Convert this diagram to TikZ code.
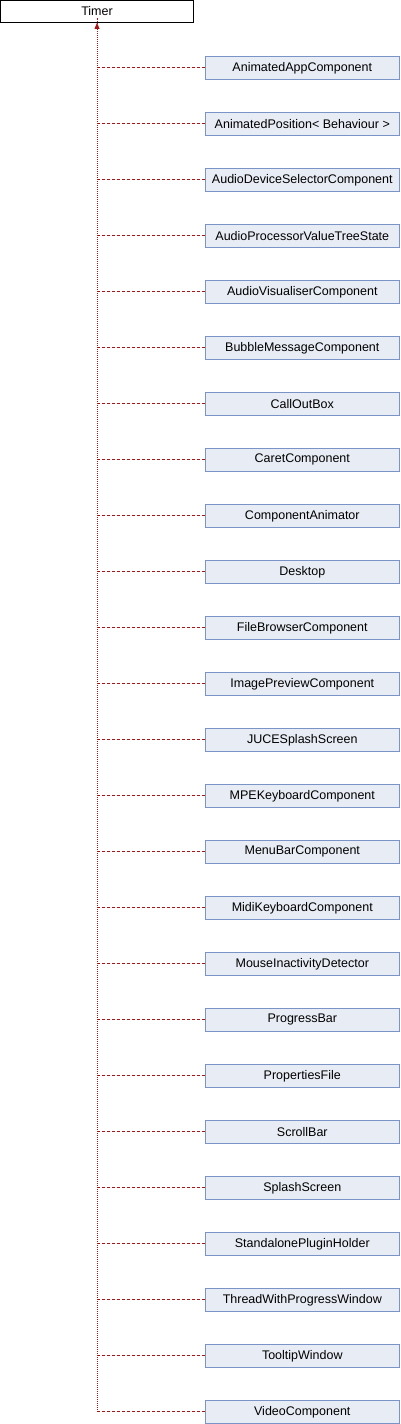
\documentclass[tikz,border=0pt]{standalone}
\usepackage{fontspec}
\setmainfont{Liberation Sans}
\usetikzlibrary{arrows.meta}
\definecolor{boxfill}{HTML}{E8ECF4}
\definecolor{boxline}{HTML}{7A94C8}
\definecolor{linkred}{HTML}{A81414}
\begin{document}
\begin{tikzpicture}[x=1pt,y=-1pt,
  every node/.style={font=\fontsize{12.5}{14}\selectfont, inner sep=0pt, outer sep=0pt},
  rootbox/.style={draw=black, line width=1pt, fill=white, minimum width=193pt, minimum height=22.5pt},
  childbox/.style={draw=boxline, line width=1pt, fill=boxfill, minimum width=194pt, minimum height=22.5pt},
  trunk/.style={draw=linkred, line width=1pt, dash pattern=on 1pt off 1pt},
  branch/.style={draw=linkred, line width=1pt, dash pattern=on 3pt off 2pt}]
\useasboundingbox (0,0) rectangle (400,1424);
\node[rootbox] (timer) at (97,11.5) {Timer};
\foreach \name [count=\i] in {AnimatedAppComponent,{AnimatedPosition< Behaviour >},AudioDeviceSelectorComponent,AudioProcessorValueTreeState,AudioVisualiserComponent,BubbleMessageComponent,CallOutBox,CaretComponent,ComponentAnimator,Desktop,FileBrowserComponent,ImagePreviewComponent,JUCESplashScreen,MPEKeyboardComponent,MenuBarComponent,MidiKeyboardComponent,MouseInactivityDetector,ProgressBar,PropertiesFile,ScrollBar,SplashScreen,StandalonePluginHolder,ThreadWithProgressWindow,TooltipWindow,VideoComponent}{
  \pgfmathsetmacro{\yc}{67.8+56*(\i-1)}
  \node[childbox] (c\i) at (302.3,\yc) {\name};
  \coordinate (j\i) at (97,\yc);
  \draw[branch] (j\i) -- (c\i.west);
}
\draw[trunk] (j25) -- ([yshift=5pt]timer.south);
\fill[linkred] (timer.south) -- ++(-2.5,6) -- ++(5,0) -- cycle;
\end{tikzpicture}
\end{document}
